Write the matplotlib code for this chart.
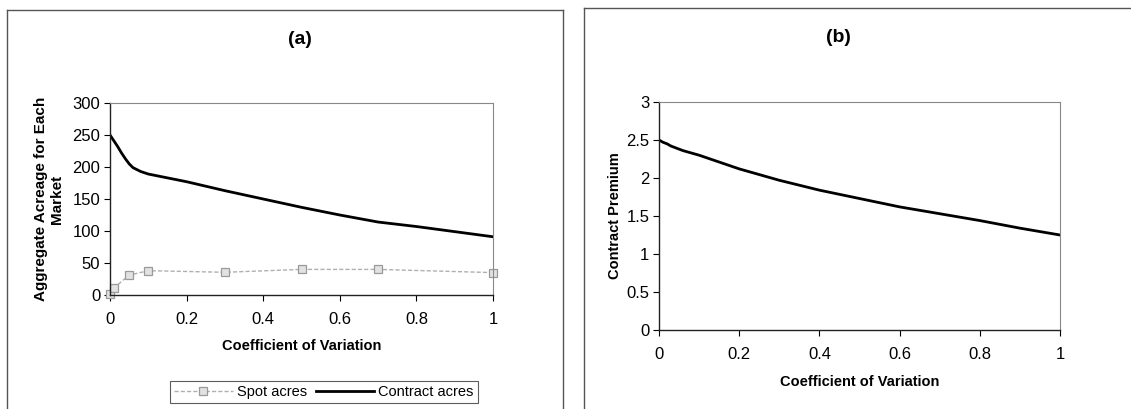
import matplotlib
matplotlib.use('Agg')
import matplotlib.pyplot as plt
from matplotlib.lines import Line2D

plt.rcParams['font.family'] = ['Liberation Sans', 'DejaVu Sans']

# contract acreage, contract premium vs coefficient of variation
cv = [0, 0.01, 0.02, 0.03, 0.04, 0.05, 0.06, 0.08, 0.1, 0.15, 0.2, 0.3, 0.4,
      0.5, 0.6, 0.7, 0.8, 0.9, 1.0]
contract_acres = [250, 241, 232, 222, 213, 205, 199, 193, 189, 183, 177, 163,
                  150, 137, 125, 114, 107, 99, 91]
premium = [2.5, 2.47, 2.45, 2.42, 2.40, 2.38, 2.36, 2.33, 2.30, 2.21, 2.12,
           1.97, 1.84, 1.73, 1.62, 1.53, 1.44, 1.34, 1.25]

# spot acreage only at the simulated points
cv_spot = [0, 0.01, 0.05, 0.1, 0.3, 0.5, 0.7, 1.0]
spot_acres = [2, 11, 31, 38, 35.5, 40, 40, 35]

W, H = 1131, 409
fig = plt.figure(figsize=(W / 100, H / 100), dpi=100)


def fx(px):
    return px / W


def fy(py):
    return 1 - py / H


def style(ax):
    ax.set_xlim(0, 1)
    ax.set_xticks([0, 0.2, 0.4, 0.6, 0.8, 1])
    ax.set_xticklabels(['0', '0.2', '0.4', '0.6', '0.8', '1'])
    for s in ('top', 'right'):
        ax.spines[s].set_color('#888888')
        ax.spines[s].set_linestyle((0, (2, 1)))
        ax.spines[s].set_linewidth(0.8)
    for s in ('left', 'bottom'):
        ax.spines[s].set_color('#222222')
        ax.spines[s].set_linewidth(1.0)
    ax.tick_params(labelsize=12, length=4, width=0.8, direction='out')
    ax.tick_params(axis='x', pad=8)
    ax.tick_params(axis='y', pad=3)


# panel (a)
ax1 = fig.add_axes([fx(110), fy(295), fx(493) - fx(110), fy(103) - fy(295)])
spot_line, = ax1.plot(cv_spot, spot_acres, color='#b0b0b0', lw=1.0,
                      linestyle=(0, (3, 1.5)), marker='s', ms=6,
                      mfc='#e2e2e2', mec='#9a9a9a', mew=0.9, clip_on=False)
contract_line, = ax1.plot(cv, contract_acres, color='black', lw=2.0)
ax1.set_ylim(0, 300)
ax1.set_yticks(range(0, 301, 50))
style(ax1)

fig.text(fx(300), fy(40), '(a)', ha='center', va='center',
         fontsize=14, fontweight='bold')
fig.text(fx(302), fy(346), 'Coefficient of Variation', ha='center',
         va='center', fontsize=10.5, fontweight='bold')
fig.text(fx(49), fy(199), 'Aggregate Acreage for Each\nMarket', ha='center',
         va='center', rotation=90, fontsize=11, fontweight='bold',
         linespacing=1.2)

leg = fig.legend([spot_line, contract_line], ['Spot acres', 'Contract acres'],
                 loc='center', bbox_to_anchor=(fx(324), fy(392)), ncol=2,
                 fontsize=10.5, frameon=True, fancybox=False,
                 handlelength=4.0, handletextpad=0.3, columnspacing=0.6,
                 borderpad=0.3)
leg.get_frame().set_edgecolor('#333333')
leg.get_frame().set_linewidth(0.8)

# panel (b)
ax2 = fig.add_axes([fx(659), fy(330), fx(1060) - fx(659), fy(102) - fy(330)])
ax2.plot(cv, premium, color='black', lw=2.0)
ax2.set_ylim(0, 3)
ax2.set_yticks([0, 0.5, 1, 1.5, 2, 2.5, 3])
ax2.set_yticklabels(['0', '0.5', '1', '1.5', '2', '2.5', '3'])
style(ax2)

fig.text(fx(838), fy(38), '(b)', ha='center', va='center',
         fontsize=14, fontweight='bold')
fig.text(fx(860), fy(382), 'Coefficient of Variation', ha='center',
         va='center', fontsize=10.5, fontweight='bold')
fig.text(fx(615), fy(216), 'Contract Premium', ha='center', va='center',
         rotation=90, fontsize=10.5, fontweight='bold')

# chart area borders
for xs, ys in [([7, 7], [10, 409]), ([7, 563], [10, 10]), ([563, 563], [10, 409]),
               ([584, 584], [8, 409]), ([584, 1131], [8, 8])]:
    fig.add_artist(Line2D([fx(x) for x in xs], [fy(y) for y in ys],
                          color='#555555', lw=1.0))

fig.savefig('out.png', dpi=100)
